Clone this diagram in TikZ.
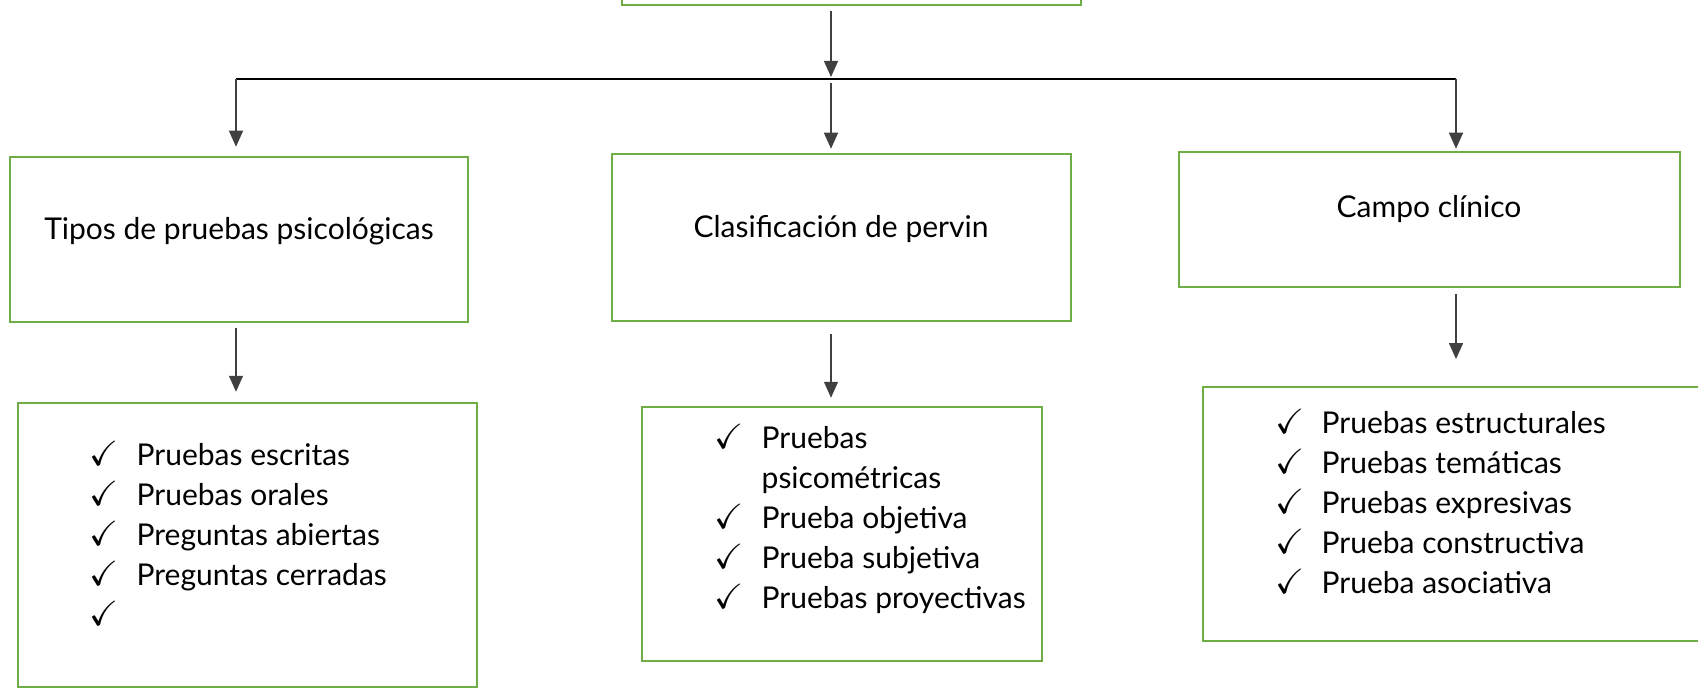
\documentclass[tikz,border=0pt]{standalone}
\usepackage{amssymb}
\usepackage{fontspec}
\setmainfont{Lato}
\usepackage{tikz}
\usetikzlibrary{arrows.meta, positioning, fit}

\definecolor{verde}{HTML}{70AD47}
\definecolor{gris}{HTML}{404040}
\newcommand{\chk}{{\fontsize{10.5}{12}\selectfont\checkmark}}

\begin{document}
\begin{tikzpicture}[
    x=0.3pt, y=-0.3pt,
    box/.style={draw=verde, line width=0.75pt, inner sep=0pt},
    title/.style={anchor=base, inner sep=0pt, font=\fontsize{9}{12}\selectfont},
    items/.style={anchor=base west, inner sep=0pt, font=\fontsize{9}{12}\selectfont},
    arr/.style={-{Triangle[length=4.8pt, width=4.2pt]}, draw=gris, line width=0.4pt}
  ]
    \useasboundingbox (0,0) rectangle (1698,688);
    \clip (0,0) rectangle (1698,688);

    % boxes
    \node[box, fit={(622,-100) (1081,5)}] (raiz) {};
    \node[box, fit={(10,157) (468,322)}] (tipos) {};
    \node[box, fit={(612,154) (1071,321)}] (clasif) {};
    \node[box, fit={(1179,152) (1680,287)}] (campo) {};
    \node[box, fit={(18,403) (477,687)}] (tiposbox) {};
    \node[box, fit={(642,407) (1042,661)}] (clasifbox) {};
    \node[box, fit={(1203,387) (1720,641)}] (campobox) {};

    % titles
    \node[title] (tipos-t) at (239,239) {Tipos de pruebas psicológicas};
    \node[title] (clasif-t) at (841,237) {Clasificación de pervin};
    \node[title] (campo-t) at (1429,218) {Campo clínico};

    % lists
    \node[items] (tipos-l) at (89,465) {%
      \begin{tabular}[t]{@{}p{14.1pt}@{}l@{}}
        \chk & Pruebas escritas\\
        \chk & Pruebas orales\\
        \chk & Preguntas abiertas\\
        \chk & Preguntas cerradas\\
        \chk &
      \end{tabular}};
    \node[items] (clasif-l) at (714,448) {%
      \begin{tabular}[t]{@{}p{14.1pt}@{}l@{}}
        \chk & Pruebas\\
             & psicométricas\\
        \chk & Prueba objetiva\\
        \chk & Prueba subjetiva\\
        \chk & Pruebas proyectivas
      \end{tabular}};
    \node[items] (campo-l) at (1275,433) {%
      \begin{tabular}[t]{@{}p{13.8pt}@{}l@{}}
        \chk & Pruebas estructurales\\
        \chk & Pruebas temáticas\\
        \chk & Pruebas expresivas\\
        \chk & Prueba constructiva\\
        \chk & Prueba asociativa
      \end{tabular}};

    % connectors
    \coordinate (hub) at (831,79);
    \coordinate (hl) at (236,79);
    \coordinate (hr) at (1456,79);
    \draw[line width=0.45pt] (hl) -- (hr);
    \draw[arr, shorten <=1.5pt, shorten >=0.6pt] (raiz.south -| hub) -- (hub);
    \draw[arr, shorten >=2.7pt] (hl) -- (hl |- tipos.north);
    \draw[arr, shorten <=1.2pt, shorten >=1.2pt] (hub) -- (hub |- clasif.north);
    \draw[arr, shorten >=0.6pt] (hr) -- (hr |- campo.north);
    \draw[arr, shorten <=1.5pt, shorten >=3pt] (hl |- tipos.south) -- (hl |- tiposbox.north);
    \draw[arr, shorten <=3.6pt, shorten >=2.4pt] (hub |- clasif.south) -- (hub |- clasifbox.north);
    \draw[arr, shorten <=1.8pt, shorten >=8pt] (hr |- campo.south) -- (hr |- campobox.north);
\end{tikzpicture}
\end{document}
